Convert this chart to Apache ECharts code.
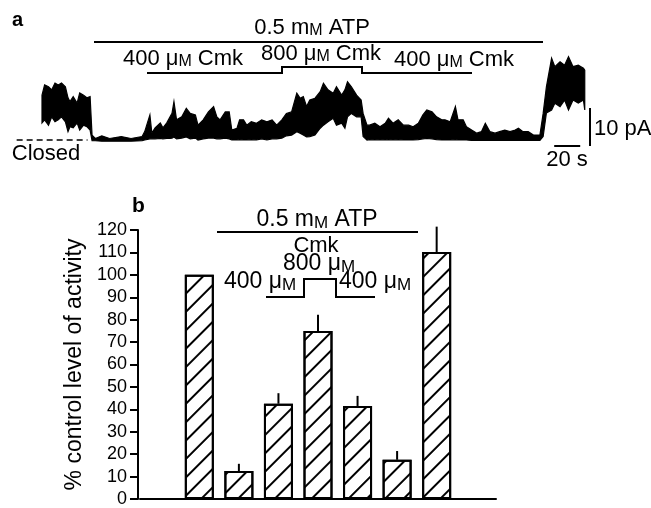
<!DOCTYPE html>
<html><head><meta charset="utf-8">
<script src="https://cdn.jsdelivr.net/npm/echarts@6/dist/echarts.min.js"></script>
<style>html,body{margin:0;padding:0;background:#fff}#c{width:651px;height:508px}</style>
</head><body><div id="c"></div>
<script>
// ---- Panel a: single-channel current trace (time in s, current in pA above closed level)
const traceTime = [0,2,5,7.5,10,12.5,15,18,20,21.5,24,27,29,32,34.5,37,38.5,41,46,52,61,68.5,77,79,83,84.5,87,91,93,96,98.5,100,101.5,103.5,107.5,111,114,118,120,124,128,132,134.5,137,141,144,146,150,152,155,157.5,161,165,169,173,177,180.5,184.5,188,192,196,198.5,201,203.5,206,210,214,216.5,220,224,226.5,230.5,233,235,238,242,245.5,247,250,252,256,260,264,266.5,270,274,278,282,285.5,289.5,293,296,300,303.5,307.5,310,314,318,320,324,326.5,330.5,334.5,338,341,344.5,348.5,352,356,360,364,366.5,370,374,378,383,385.5,388,392,394.5,398.5,402,405,408.5,412.5,416.5,417.5];
const traceUpper = [11.8,14.5,14.0,13.2,15.0,14.5,15.0,14.0,11.1,10.1,11.4,9.7,12.4,11.8,11.1,11.4,1.3,0.4,1.1,0.4,0.9,0.4,0.9,2.2,6.6,1.8,3.2,4.5,3.2,4.5,6.1,7.0,10.1,5.3,6.1,8.3,7.0,6.6,3.9,5.3,7.4,8.8,6.1,5.3,7.4,7.4,2.6,3.1,5.3,5.3,3.9,4.8,4.4,5.3,4.8,5.3,3.9,5.3,7.0,7.4,12.3,11.0,11.4,8.8,10.5,11.0,12.7,14.9,13.2,12.3,14.0,11.8,13.2,15.3,14.0,11.8,10.5,7.0,3.9,3.9,4.4,3.5,4.4,5.7,4.4,5.3,3.9,3.9,3.5,4.4,6.6,7.9,7.4,6.1,5.3,5.3,4.8,8.8,5.3,5.3,3.5,2.6,1.8,2.2,4.4,2.2,1.8,2.2,2.6,2.2,2.6,3.1,2.2,2.2,1.3,1.3,7.0,14.0,21.5,19.3,20.6,19.7,21.9,19.3,19.7,18.9,18.4];
const traceLower = [4.5,5.3,3.9,6.1,4.8,5.3,6.1,4.8,2.2,3.5,3.2,4.5,2.6,3.9,3.5,2.6,-0.2,-0.2,-0.3,-0.3,-0.3,-0.3,-0.2,0,0.3,0.3,0.3,0.4,0.3,0.4,0.4,0.5,0.8,0.3,0.5,0.8,0.3,0.5,0,0.3,0.5,0.5,0.3,0.3,0.5,0.3,0,0,0.1,0,0,0.1,0,0.3,0,0.3,0.3,0.5,1.1,1.3,2.2,1.8,1.3,0.8,0.9,1.3,3.1,3.9,4.8,5.7,3.9,4.4,3.1,6.1,7.0,6.1,6.1,0.9,0,0.1,0,0.1,0,0.1,0,0.1,0,0,0,0.1,0.3,0.4,0.3,0.1,0,0,0,0.1,0,0,0,-0.1,-0.1,-0.1,-0.1,-0.1,-0.1,-0.1,-0.1,-0.1,-0.1,-0.1,-0.1,-0.1,-0.1,-0.1,0.9,7.1,7.9,9.7,8.8,10.5,7.9,10.5,9.7,10.5,7.9];
const scaleBarPA = 10;   // pA
const scaleBarSec = 20;  // s

// ---- Panel b: % control level of activity
const barCategories = ['', 'Control', '0.5 mM ATP', 'ATP + 400 μM Cmk', 'ATP + 800 μM Cmk', 'ATP + 400 μM Cmk (2)', 'ATP (2)', 'Washout', ' '];
const barValues = [null, 100, 12.5, 42.5, 75, 41.5, 17.5, 110.2, null];
const barErrors = [null, 0, 3.2, 4.7, 7.2, 4.5, 3.9, 11.3, null];
const yMin = 0, yMax = 120, yStep = 10;

const FONT = '"Liberation Sans", Arial, Helvetica, sans-serif';
const chart = echarts.init(document.getElementById('c'), null, {renderer: 'canvas'});

function rt(parts, size) {
  return {
    text: parts,
    rich: {
      n: {fontSize: size, fontFamily: FONT, color: '#000', verticalAlign: 'bottom'},
      s: {fontSize: Math.round(size * 0.72), fontFamily: FONT, color: '#000', verticalAlign: 'bottom'}
    }
  };
}
function label(x, y, parts, size, align) {
  const st = rt(parts, size);
  st.textAlign = align || 'center';
  st.textVerticalAlign = 'middle';
  return {type: 'text', x: x, y: y, style: st, silent: true};
}
function pl(points, w) {
  return {type: 'polyline', shape: {points: points}, style: {stroke: '#000', lineWidth: w || 2, fill: null}, silent: true};
}

const option = {
  animation: false,
  backgroundColor: '#fff',
  grid: [
    {left: 3, width: 598, top: 45, height: 114},
    {left: 140, width: 356, top: 230, height: 274}
  ],
  xAxis: [
    {gridIndex: 0, type: 'value', min: -30, max: 430, show: false},
    {gridIndex: 1, type: 'category', data: barCategories, boundaryGap: true,
     axisLine: {show: true, lineStyle: {color: '#000', width: 2}},
     axisTick: {show: false}, axisLabel: {show: false}}
  ],
  yAxis: [
    {gridIndex: 0, type: 'value', min: -5, max: 25, show: false},
    {gridIndex: 1, type: 'value', min: yMin, max: yMax, interval: yStep, offset: 2,
     axisLine: {show: true, lineStyle: {color: '#000', width: 2}},
     axisTick: {show: true, inside: false, length: 8, lineStyle: {color: '#000', width: 2}},
     axisLabel: {color: '#000', fontSize: 18, fontFamily: FONT, margin: 11},
     splitLine: {show: false},
     name: '% control level of activity', nameLocation: 'middle', nameGap: 50, nameRotate: 90,
     nameTextStyle: {color: '#000', fontSize: 23, fontFamily: FONT}}
  ],
  series: [
    {
      // trace envelope: band between lower and upper current readings
      type: 'custom', xAxisIndex: 0, yAxisIndex: 0, data: [[0]],
      renderItem: function (params, api) {
        const pts = [];
        for (let i = 0; i < traceTime.length; i++) pts.push(api.coord([traceTime[i], traceUpper[i]]));
        for (let i = traceTime.length - 1; i >= 0; i--) pts.push(api.coord([traceTime[i], traceLower[i]]));
        return {type: 'polygon', shape: {points: pts}, style: {fill: '#000', stroke: '#000', lineWidth: 1.2, lineJoin: 'miter'}};
      }
    },
    {
      type: 'line', xAxisIndex: 0, yAxisIndex: 0, data: [], symbol: 'none',
      markLine: {
        silent: true, symbol: 'none', label: {show: false}, animation: false,
        lineStyle: {color: '#000', width: 2, type: 'solid'},
        data: [
          [{coord: [-19.5, 0], lineStyle: {type: [6, 4], width: 1.5}}, {coord: [35, 0]}],
          [{coord: [421, -1.6]}, {coord: [421, -1.6 + scaleBarPA]}],
          [{coord: [394, -1.5]}, {coord: [394 + scaleBarSec, -1.5]}]
        ]
      }
    },
    {
      type: 'bar', xAxisIndex: 1, yAxisIndex: 1, data: barValues, barWidth: 29,
      itemStyle: {
        color: '#fff', borderColor: '#000', borderWidth: 2,
        decal: {symbol: 'rect', symbolSize: 1, color: '#000', dashArrayX: [1, 0], dashArrayY: [2, 11], rotation: -Math.PI / 4}
      }
    },
    {
      type: 'custom', xAxisIndex: 1, yAxisIndex: 1, clip: false,
      data: barValues.map((v, i) => [i, v, barErrors[i]]).filter(d => d[1] != null),
      renderItem: function (params, api) {
        const v = api.value(1), e = api.value(2);
        if (!e) return null;
        const p0 = api.coord([api.value(0), v]);
        const p1 = api.coord([api.value(0), v + e]);
        return {type: 'line', shape: {x1: p0[0], y1: p0[1], x2: p1[0], y2: p1[1]}, style: {stroke: '#000', lineWidth: 2}};
      }
    }
  ],
  graphic: [
    // panel a
    {type: 'text', x: 12, y: 20, style: {text: 'a', fontSize: 20, fontWeight: 'bold', fontFamily: FONT, fill: '#000', textVerticalAlign: 'middle'}},
    label(312, 28, '{n|0.5 m}{s|M}{n| ATP}', 22),
    pl([[94, 42], [543, 42]]),
    label(183, 59, '{n|400 μ}{s|M}{n| Cmk}', 22),
    label(321, 54, '{n|800 μ}{s|M}{n| Cmk}', 22),
    label(454, 60, '{n|400 μ}{s|M}{n| Cmk}', 22),
    pl([[147, 73], [282, 73], [282, 67], [362, 67], [362, 73], [472, 73]]),
    label(46, 154, '{n|Closed}', 22),
    label(594, 129, '{n|10 pA}', 22, 'left'),
    label(567, 160, '{n|20 s}', 22),
    // panel b
    {type: 'text', x: 132, y: 206, style: {text: 'b', fontSize: 21, fontWeight: 'bold', fontFamily: FONT, fill: '#000', textVerticalAlign: 'middle'}},
    label(317, 220, '{n|0.5 m}{s|M}{n| ATP}', 23),
    pl([[217, 232], [418, 232]]),
    label(316, 246, '{n|Cmk}', 22),
    label(319, 264, '{n|800 μ}{s|M}', 23),
    label(260, 282, '{n|400 μ}{s|M}', 23),
    label(375, 282, '{n|400 μ}{s|M}', 23),
    pl([[266, 297], [304, 297], [304, 279], [336, 279], [336, 297], [375, 297]])
  ]
};
chart.setOption(option);
</script></body></html>
